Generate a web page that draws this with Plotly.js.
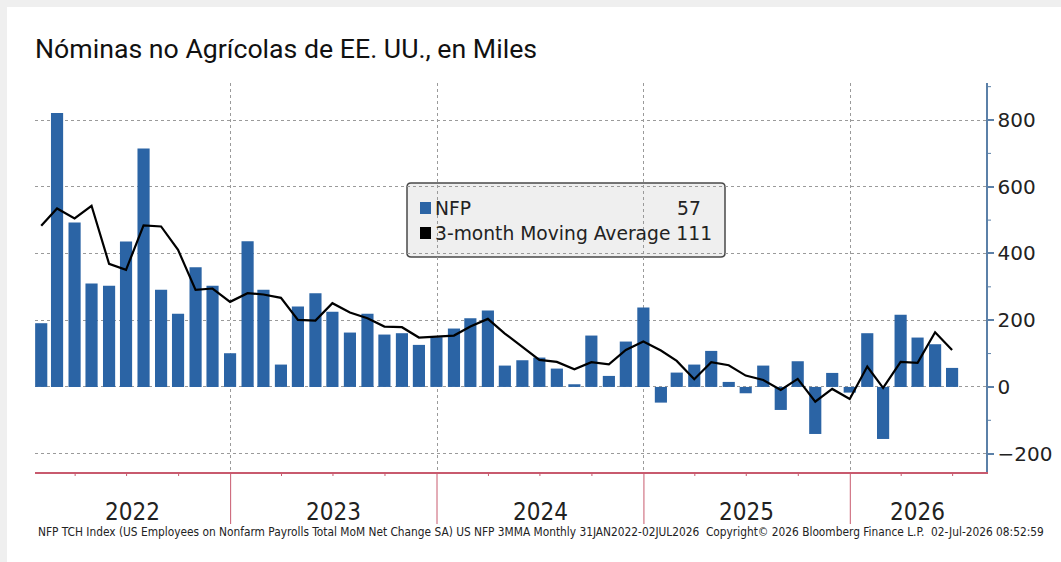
<!DOCTYPE html>
<html>
<head>
<meta charset="utf-8">
<script src="https://cdn.plot.ly/plotly-3.0.1.min.js"></script>
<style>
  html, body { margin: 0; padding: 0; background: #efefef; width: 1061px; height: 562px; overflow: hidden; }
  #chart { position: absolute; left: 7px; top: 7px; width: 1054px; height: 555px; background: #fff; }
</style>
</head>
<body>
<div id="chart"></div>
<script>
// ---- Data ----
const months = [
  '2022-01-31','2022-02-28','2022-03-31','2022-04-30','2022-05-31','2022-06-30',
  '2022-07-31','2022-08-31','2022-09-30','2022-10-31','2022-11-30','2022-12-31',
  '2023-01-31','2023-02-28','2023-03-31','2023-04-30','2023-05-31','2023-06-30',
  '2023-07-31','2023-08-31','2023-09-30','2023-10-31','2023-11-30','2023-12-31',
  '2024-01-31','2024-02-29','2024-03-31','2024-04-30','2024-05-31','2024-06-30',
  '2024-07-31','2024-08-31','2024-09-30','2024-10-31','2024-11-30','2024-12-31',
  '2025-01-31','2025-02-28','2025-03-31','2025-04-30','2025-05-31','2025-06-30',
  '2025-07-31','2025-08-31','2025-09-30','2025-10-31','2025-11-30','2025-12-31',
  '2026-01-31','2026-02-28','2026-03-31','2026-04-30','2026-05-31','2026-06-30'
];
const nfp = [
  191, 821, 493, 310, 303, 436, 715, 291, 219, 359, 303, 101,
  437, 291, 67, 241, 281, 225, 163, 219, 157, 161, 126, 149,
  175, 206, 229, 64, 80, 88, 55, 8, 154, 33, 136, 238,
  -47, 43, 67, 108, 15, -19, 64, -69, 77, -141, 42, -17,
  161, -156, 216, 148, 128, 57
];
const mma3 = [
  483, 535, 505, 543, 369, 351, 484, 481, 411, 291, 295, 255,
  281, 277, 267, 201, 199, 251, 223, 206, 181, 179, 148, 150,
  154, 181, 204, 160, 120, 81, 75, 53, 74, 68, 111, 136,
  109, 78, 23, 74, 65, 34, 21, -9, 24, -44, -6, -36,
  61, -3, 75, 72, 164, 111
];
const yTickVals = [-200, 0, 200, 400, 600, 800];
const yMinorVals = [-100, 100, 300, 500, 700, 900];
const yearBoundaries = ['2023-01-01', '2024-01-01', '2025-01-01', '2026-01-01'];
const quarterTicks = [
  '2022-04-01','2022-07-01','2022-10-01',
  '2023-04-01','2023-07-01','2023-10-01',
  '2024-04-01','2024-07-01','2024-10-01',
  '2025-04-01','2025-07-01','2025-10-01',
  '2026-04-01','2026-07-01'
];
const yearLabels = ['2022', '2023', '2024', '2025', '2026'];
const yearLabelPos = ['2022-07-11', '2023-07-02', '2024-07-02', '2025-07-02', '2026-04-30'];
const seriesNames = ['NFP', '3-month Moving Average'];
const lastValues = ['57', '111'];
const titleText = 'Nóminas no Agrícolas de EE. UU., en Miles';
const sourceText = 'NFP TCH Index (US Employees on Nonfarm Payrolls Total MoM Net Change SA) US NFP 3MMA Monthly 31JAN2022-02JUL2026\u00a0\u00a0Copyright\u00a9 2026 Bloomberg Finance L.P.\u00a0\u00a002-Jul-2026 08:52:59';

// ---- Style ----
const BLUE = '#2b64a5';
const RED = '#c85a6e';
const AXBLUE = '#5b80a8';
const GRID = '#9a9a9a';

// plot area in page pixels (for placing overlay items)
const PL = 35, PR = 986, PT = 83, PB = 472;
const W = PR - PL, H = PB - PT;
const px = x => (x - PL) / W;
const py = y => (PB - y) / H;

const traces = [
  {
    type: 'bar', x: months, y: nfp, name: seriesNames[0],
    marker: { color: BLUE, line: { width: 0 } },
    width: 21.5 * 86400000, hoverinfo: 'skip'
  },
  {
    type: 'scatter', mode: 'lines', x: months, y: mma3, name: seriesNames[1],
    line: { color: '#000', width: 2.2 }, hoverinfo: 'skip'
  }
];

const legendFont = { family: 'DejaVu Sans, Verdana, sans-serif', size: 18.7, color: '#222' };
const rx = 4 / W, ry = 4 / H;
const bx0 = px(407), bx1 = px(725), by0 = py(257), by1 = py(183);
const boxPath = `M ${bx0 + rx} ${by0} L ${bx1 - rx} ${by0} Q ${bx1} ${by0} ${bx1} ${by0 + ry} ` +
  `L ${bx1} ${by1 - ry} Q ${bx1} ${by1} ${bx1 - rx} ${by1} L ${bx0 + rx} ${by1} Q ${bx0} ${by1} ${bx0} ${by1 - ry} ` +
  `L ${bx0} ${by0 + ry} Q ${bx0} ${by0} ${bx0 + rx} ${by0} Z`;

const shapes = [
  { type: 'path', xref: 'paper', yref: 'paper', path: boxPath, layer: 'below',
    fillcolor: '#efefef', line: { color: '#4a4a4a', width: 1.5 } },
  { type: 'rect', xref: 'paper', yref: 'paper', x0: px(420), x1: px(431), y0: py(214), y1: py(202),
    fillcolor: BLUE, line: { width: 0 } },
  { type: 'rect', xref: 'paper', yref: 'paper', x0: px(420), x1: px(431), y0: py(239), y1: py(227),
    fillcolor: '#000', line: { width: 0 } }
];
// year separators below the axis
yearBoundaries.forEach(d => {
  shapes.push({ type: 'line', xref: 'x', yref: 'paper', x0: d, x1: d, y0: 0, y1: py(524),
    line: { color: RED, width: 1 } });
});
// quarterly minor ticks
quarterTicks.forEach(d => {
  shapes.push({ type: 'line', xref: 'x', yref: 'paper', x0: d, x1: d, y0: 0, y1: py(476),
    line: { color: RED, width: 1 } });
});
// minor ticks on the right axis
yMinorVals.forEach(v => {
  shapes.push({ type: 'line', xref: 'paper', yref: 'y', x0: 1, x1: 1 + 5 / W, y0: v, y1: v,
    line: { color: AXBLUE, width: 1 } });
});

const annotations = [
  { xref: 'paper', yref: 'paper', x: px(433), y: py(208), xanchor: 'left', yanchor: 'middle',
    text: seriesNames[0], showarrow: false, font: legendFont },
  { xref: 'paper', yref: 'paper', x: px(703), y: py(208), xanchor: 'right', yanchor: 'middle',
    text: lastValues[0], showarrow: false, font: legendFont },
  { xref: 'paper', yref: 'paper', x: px(433), y: py(233), xanchor: 'left', yanchor: 'middle',
    text: seriesNames[1] + ' ' + lastValues[1], showarrow: false, font: legendFont },
  { xref: 'paper', yref: 'paper', x: px(36), y: py(532), xanchor: 'left', yanchor: 'middle',
    text: sourceText, showarrow: false,
    font: { family: 'DejaVu Sans Condensed, Liberation Sans Narrow, Arial Narrow, sans-serif', size: 11.8, color: '#222' } }
];
yearLabels.forEach((lab, i) => {
  annotations.push({
    xref: 'x', yref: 'paper', x: yearLabelPos[i], y: py(512), xanchor: 'center', yanchor: 'middle',
    text: lab, showarrow: false,
    font: { family: 'Liberation Sans Narrow, DejaVu Sans Condensed, Arial Narrow, sans-serif', size: 24, color: '#222' }
  });
});

const layout = {
  width: 1054, height: 555,
  margin: { l: PL - 7, r: 1054 - (PR - 7), t: PT - 7, b: 555 - (PB - 7), pad: 0 },
  paper_bgcolor: '#ffffff', plot_bgcolor: '#ffffff',
  showlegend: false,
  title: {
    text: titleText, xref: 'paper', x: 0, xanchor: 'left',
    yref: 'container', y: 1 - (49 - 7) / 555, yanchor: 'middle',
    font: { family: 'Roboto, Noto Sans, sans-serif', size: 26.7, color: '#111' }
  },
  xaxis: {
    type: 'date', range: ['2022-01-20', '2026-08-29'],
    tickmode: 'array', tickvals: yearBoundaries,
    showticklabels: false, ticks: '',
    showline: true, linecolor: RED, linewidth: 1.5,
    showgrid: true, gridcolor: GRID, griddash: 'dot', gridwidth: 1,
    zeroline: false,
    fixedrange: true
  },
  yaxis: {
    side: 'right', range: [-255, 911],
    tickmode: 'array', tickvals: yTickVals,
    ticks: 'outside', ticklen: 6, tickwidth: 2, tickcolor: AXBLUE,
    showline: true, linecolor: AXBLUE, linewidth: 1.5,
    showgrid: true, gridcolor: GRID, griddash: 'dot', gridwidth: 1,
    zeroline: false,
    tickfont: { family: 'DejaVu Sans, Verdana, sans-serif', size: 20, color: '#222' },
    fixedrange: true
  },
  bargap: 0.3,
  shapes: shapes,
  annotations: annotations
};

Plotly.newPlot('chart', traces, layout, { staticPlot: true, displayModeBar: false });
</script>
</body>
</html>
